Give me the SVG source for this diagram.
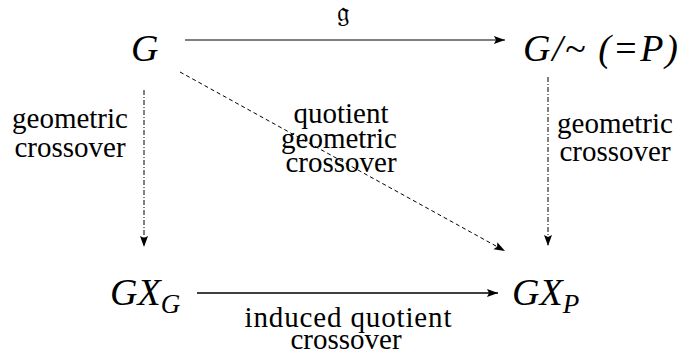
<svg xmlns="http://www.w3.org/2000/svg" width="682" height="356" viewBox="0 0 682 356">
<defs>
<style>
.big{font-family:"Liberation Serif","Times New Roman",serif;font-style:italic;font-size:38px;fill:#000}
.sub{font-family:"Liberation Serif","Times New Roman",serif;font-style:italic;font-size:27px;fill:#000}
.lbl{font-family:"Liberation Serif","Times New Roman",serif;font-size:29px;fill:#000;text-anchor:middle}
.frak{font-family:"DejaVu Serif","DejaVu Sans","Noto Sans",serif;font-size:28px;fill:#000;text-anchor:middle}
.ln{fill:none;stroke:#000}
</style>
<marker id="ah" markerUnits="userSpaceOnUse" markerWidth="12" markerHeight="10" refX="11" refY="4" orient="auto">
<path d="M0,0 L11,4 L0,8 L2,4 Z" fill="#000"/>
</marker>
</defs>
<rect width="682" height="356" fill="#fff"/>
<g id="connectors">
<line id="e-g" class="ln" x1="185" y1="40" x2="505" y2="40" stroke-width="1" stroke="#333" marker-end="url(#ah)"/>
<line id="e-induced" class="ln" x1="197" y1="293" x2="498" y2="293" stroke-width="1.6" marker-end="url(#ah)"/>
<line id="e-left" class="ln" x1="144" y1="90" x2="144" y2="247" stroke-width="1" stroke-dasharray="5 2 1 2" marker-end="url(#ah)"/>
<line id="e-right" class="ln" x1="548" y1="77" x2="548" y2="246" stroke-width="1" stroke-dasharray="5 2 1 2" marker-end="url(#ah)"/>
<line id="e-diag" class="ln" x1="180" y1="72" x2="505" y2="251" stroke-width="1" stroke-dasharray="4 3" marker-end="url(#ah)"/>
</g>
<g id="label-g"><text class="frak" x="343" y="22">𝔤</text></g>
<g id="label-left" font-family="Liberation Serif, serif"><text class="lbl" x="70" y="128">geometric</text><text class="lbl" x="70" y="157">crossover</text></g>
<g id="label-mid" font-family="Liberation Serif, serif"><text class="lbl" x="341" y="123">quotient</text><text class="lbl" x="339" y="148">geometric</text><text class="lbl" x="341" y="172">crossover</text></g>
<g id="label-right" font-family="Liberation Serif, serif"><text class="lbl" x="615" y="133">geometric</text><text class="lbl" x="615" y="161">crossover</text></g>
<g id="label-bottom" font-family="Liberation Serif, serif"><text class="lbl" x="348" y="327" textLength="207">induced quotient</text><text class="lbl" x="346" y="349">crossover</text></g>
<g id="node-G"><text class="big" x="131" y="61">G</text></g>
<g id="node-P"><text class="big" x="523" y="61" textLength="155">G/~ (=P)</text></g>
<g id="node-GXG"><text class="big" x="110" y="305">GX<tspan class="sub" dy="8">G</tspan></text></g>
<g id="node-GXP"><text class="big" x="512" y="305">GX<tspan class="sub" dy="8">P</tspan></text></g>
</svg>
